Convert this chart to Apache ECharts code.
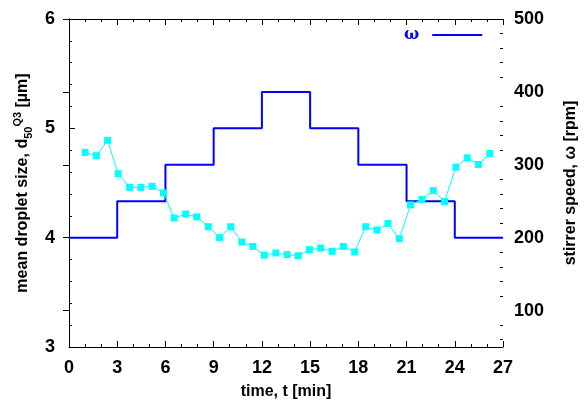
<!DOCTYPE html>
<html>
<head>
<meta charset="utf-8">
<script src="https://cdn.jsdelivr.net/npm/echarts@6/dist/echarts.min.js"></script>
<style>
  html, body { margin: 0; padding: 0; background: #fff; }
  #chart { width: 587px; height: 405px; }
</style>
</head>
<body>
<div id="chart"></div>
<script>
// droplet size readings (left axis)
const times = [1.0, 1.7, 2.4, 3.06, 3.77, 4.47, 5.17, 5.88,
  6.54, 7.26, 7.95, 8.67, 9.37, 10.06, 10.76, 11.44, 12.15, 12.87, 13.57, 14.26, 14.96, 15.66, 16.37, 17.07, 17.77,
  18.46, 19.16, 19.84, 20.55, 21.25, 21.96, 22.66, 23.36, 24.07, 24.77, 25.47, 26.18];
const sizes = [4.78, 4.75, 4.89, 4.585, 4.46, 4.46, 4.47, 4.41,
  4.18, 4.216, 4.19, 4.10, 4.0, 4.10, 3.96, 3.92, 3.84, 3.86, 3.845, 3.835, 3.89, 3.905, 3.875, 3.92, 3.87,
  4.10, 4.07, 4.13, 3.99, 4.30, 4.35, 4.43, 4.33, 4.645, 4.73, 4.67, 4.77];

// stirrer speed steps (right axis)
const stepTimes = [0, 3, 6, 9, 12, 15, 18, 21, 24, 27];
const speeds = [200, 250, 300, 350, 400, 350, 300, 250, 200, 200];

const speedLabels = [100, 200, 300, 400, 500];
const speedMinor = [60, 80, 120, 140, 160, 180, 220, 240, 260, 280, 320, 340, 360, 380, 420, 440, 460, 480];

const font = 'Liberation Sans';
const tickLbl = { color: '#000', fontFamily: font, fontWeight: 'bold', fontSize: 18 };
const nameTxt = { color: '#000', fontFamily: font, fontWeight: 'bold', fontSize: 16 };
const line = { show: true, lineStyle: { color: '#000', width: 1 } };

const chart = echarts.init(document.getElementById('chart'));
chart.setOption({
  animation: false,
  grid: { left: 69, right: 83, top: 19, bottom: 58 },
  legend: {
    left: 399, top: 22,
    align: 'right',
    itemWidth: 50, itemHeight: 2, itemGap: 0,
    data: [{ name: 'ω', icon: 'path://M0,0H50V2H0Z' }],
    textStyle: { color: '#0000ff', fontFamily: 'DejaVu Serif', fontWeight: 'bold', fontSize: 16, padding: [0, 8, 0, 0] }
  },
  xAxis: [
    {
      type: 'value', min: 0, max: 27, interval: 3,
      name: 'time, t [min]', nameLocation: 'middle', nameGap: 37, nameTextStyle: nameTxt,
      axisLine: line,
      axisTick: { inside: true, length: 6, lineStyle: { color: '#000' } },
      minorTick: { show: true, splitNumber: 3, length: 3, lineStyle: { color: '#000' } },
      axisLabel: Object.assign({ margin: 12 }, tickLbl),
      splitLine: { show: false }
    },
    {
      type: 'value', position: 'top', min: 0, max: 27, interval: 3,
      axisLine: line,
      axisTick: { inside: true, length: 6, lineStyle: { color: '#000' } },
      minorTick: { show: true, splitNumber: 3, length: 3, lineStyle: { color: '#000' } },
      axisLabel: { show: false },
      splitLine: { show: false }
    }
  ],
  yAxis: [
    {
      type: 'value', min: 3, max: 6, interval: 1,
      name: '{t|mean droplet size, d}{s|50}{p|Q3}{t| [µm]}',
      nameLocation: 'middle', nameGap: 25, nameRotate: 90,
      nameTextStyle: Object.assign({
        rich: {
          t: { fontFamily: font, fontWeight: 'bold', fontSize: 16, lineHeight: 22, color: '#000' },
          s: { fontFamily: font, fontWeight: 'bold', fontSize: 11, lineHeight: 22, verticalAlign: 'bottom', color: '#000' },
          p: { fontFamily: font, fontWeight: 'bold', fontSize: 11, lineHeight: 22, verticalAlign: 'top', color: '#000' }
        }
      }, nameTxt),
      axisLine: line,
      axisTick: { inside: true, length: 6, lineStyle: { color: '#000' } },
      minorTick: { show: true, splitNumber: 5, length: 3, lineStyle: { color: '#000' } },
      axisLabel: Object.assign({ margin: 14 }, tickLbl),
      splitLine: { show: false }
    },
    {
      type: 'value', position: 'right', min: 50, max: 500,
      name: 'stirrer speed, ω [rpm]', nameLocation: 'middle', nameGap: 60, nameRotate: 90,
      nameTextStyle: nameTxt,
      axisLine: line,
      axisTick: { inside: true, length: 6, customValues: speedLabels, lineStyle: { color: '#000' } },
      axisLabel: Object.assign({ margin: 11, customValues: speedLabels }, tickLbl),
      splitLine: { show: false }
    },
    {
      type: 'value', position: 'right', min: 50, max: 500,
      axisLine: { show: false },
      axisTick: { inside: true, length: 3, customValues: speedMinor, lineStyle: { color: '#000' } },
      axisLabel: { show: false },
      splitLine: { show: false }
    }
  ],
  series: [
    {
      name: 'ω', type: 'line', step: 'end', yAxisIndex: 1,
      data: stepTimes.map((t, i) => [t, speeds[i]]),
      symbol: 'none',
      lineStyle: { color: '#0000ff', width: 2 },
      itemStyle: { color: '#0000ff' },
      z: 2
    },
    {
      name: 'd50', type: 'line', yAxisIndex: 0,
      data: times.map((t, i) => [t, sizes[i]]),
      symbol: 'rect', symbolSize: 7,
      lineStyle: { color: '#00ffff', width: 1 },
      itemStyle: { color: '#00ffff' },
      z: 3
    }
  ]
});
</script>
</body>
</html>
